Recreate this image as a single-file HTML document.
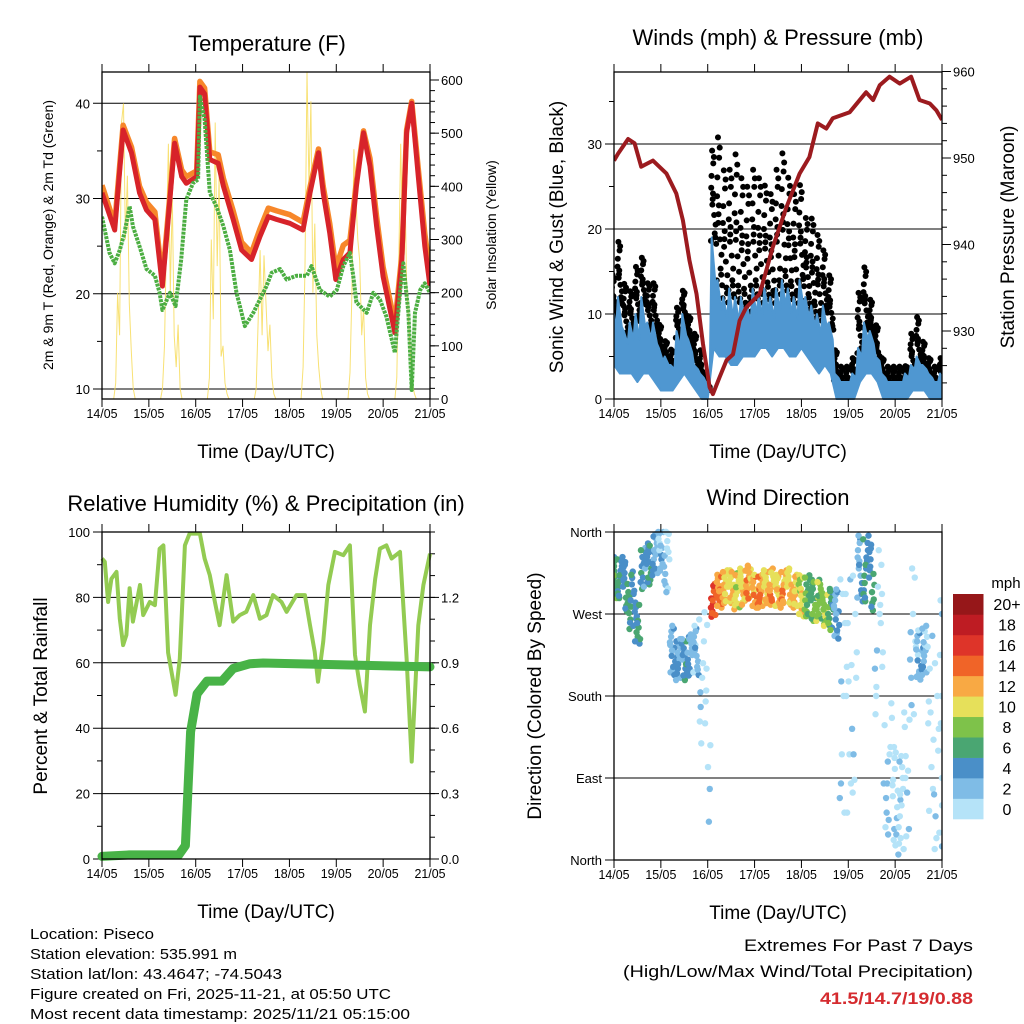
<!DOCTYPE html>
<html><head><meta charset="utf-8"><style>
html,body{margin:0;padding:0;background:#fff;}
svg{display:block;font-family:"Liberation Sans",sans-serif;}
</style></head><body>
<svg id="svg" width="1024" height="1024" viewBox="0 0 1024 1024"></svg>
<script>
// ===== DATA =====
const dayLabels=["14/05","15/05","16/05","17/05","18/05","19/05","20/05","21/05"];
// Temperature (days, F)
const tT=[0,0.27,0.45,0.63,0.80,0.95,1.13,1.29,1.45,1.55,1.70,1.80,2.02,2.09,2.19,2.30,2.48,2.59,2.80,2.98,3.19,3.37,3.55,3.73,4.01,4.29,4.44,4.62,4.72,4.86,4.99,5.15,5.29,5.43,5.58,5.72,5.86,6.00,6.25,6.40,6.50,6.61,6.75,6.89,7.0];
const temp2m=[30.6,26.7,37.2,34.8,30.6,28.8,27.8,20.8,29.9,35.8,32.3,31.6,32.3,41.7,41.0,34.1,33.7,31.3,27.8,24.6,23.6,26.0,28.1,27.8,27.4,26.7,30.6,34.8,30.6,26.4,21.5,23.6,24.3,31.3,36.9,33.4,27.1,21.8,15.9,23.6,36.9,40.0,32.3,25.0,20.8];
const temp9mOffset=[0.8,0.6,0.5,0.6,0.7,0.8,0.8,0.6,0.5,0.5,0.7,0.7,0.6,0.6,0.6,0.8,0.9,0.8,0.9,0.8,0.7,0.8,0.9,0.9,0.9,0.8,0.6,0.4,0.7,1.0,1.2,1.5,1.3,0.5,0.2,0.8,1.0,1.0,0.9,0.6,0.3,0.2,0.8,1.3,1.5];
const tTd=[0,0.16,0.27,0.38,0.48,0.59,0.66,0.80,0.95,1.13,1.23,1.29,1.45,1.57,1.69,1.80,1.94,2.05,2.09,2.19,2.30,2.44,2.59,2.73,2.87,3.05,3.23,3.37,3.51,3.62,3.80,3.94,4.15,4.37,4.47,4.65,4.86,5.01,5.15,5.29,5.36,5.43,5.65,5.79,5.93,6.07,6.25,6.36,6.43,6.54,6.61,6.68,6.79,6.89,7.0];
const dewpt=[28.1,24.3,23.2,24.6,26.4,29.2,27.1,25.0,22.6,21.9,20.1,18.3,20.1,18.7,23.6,29.9,31.6,32.0,40.7,38.3,30.6,29.2,27.1,24.6,20.1,16.6,18.0,19.4,20.8,22.2,22.6,21.5,21.9,21.9,22.9,20.4,19.7,20.4,22.9,24.3,21.9,19.1,18.0,20.1,19.4,17.6,13.8,20.1,23.2,18.0,9.9,18.0,20.4,21.1,20.1];
// Solar insolation, hourly 06..17 UTC for each day
const solarHours=[6,7,8,9,10,11,12,13,14,15,16,17];
const solar=[[0,30,200,120,520,556,300,420,180,90,20,0],[0,20,100,300,480,200,380,120,60,140,20,0],[0,40,300,150,520,250,420,80,100,30,10,0],[0,20,150,280,120,270,180,90,140,40,10,0],[0,60,250,615,400,560,200,330,120,60,20,0],[0,50,200,470,380,300,260,120,170,40,10,0],[0,40,260,480,300,440,220,150,80,30,10,0]];
// Winds, 3-hourly (mph)
const windLo=[4,3,3,3,2,3,3,2, 1,1,1, 2,3,2, 1,0,0, 6,5,5,4,4,5,5,5,6,6,5,6,6,5,5,6, 5,4,3,4,3, 0,0,0,0, 2,3,3,2, 0,0,0,0,0, 1,1,1, 0,0,0];
const windHi=[10,12,8,9,10,12,9,9, 6,5,4, 8,10,7, 4,3,2, 19,14,12,13,12,12,11,13,12,13,12,13,14,13,12,14, 12,11,10,11,9, 3,2,2,3, 6,9,8,5, 3,2,2,2,3, 4,5,4, 3,2,3];
const gustHi=[15,19,14,13,16,17,14,14, 9,7,6, 11,13,10, 8,6,3, 30,32,28,28,30,27,26,28,27,26,25,28,30,27,25,26, 22,22,20,18,15, 6,4,4,5, 13,16,12,9, 5,4,4,4,4, 8,10,7, 5,4,5];
// Pressure (mb)
const tP=[0,0.085,0.30,0.44,0.58,0.83,1.12,1.33,1.47,1.61,1.76,1.90,2.04,2.11,2.25,2.40,2.54,2.68,2.82,3.11,3.39,3.68,3.96,4.17,4.35,4.53,4.67,5.03,5.38,5.53,5.67,5.88,6.10,6.34,6.52,6.74,6.88,7.0];
const pres=[949.7,950.5,952.2,951.7,949.0,949.7,948.2,945.9,942.8,938.2,934.3,928.5,923.5,922.7,924.6,926.6,927.3,931.2,932.7,934.3,939.7,944.3,948.2,950.1,954.0,953.4,954.6,955.3,957.6,956.7,958.4,959.4,958.6,959.4,956.7,956.3,955.5,954.4];
// RH (%)
const tRH=[0,0.06,0.13,0.20,0.31,0.38,0.45,0.52,0.59,0.66,0.81,0.88,1.02,1.13,1.23,1.31,1.41,1.57,1.66,1.77,1.87,2.09,2.19,2.30,2.41,2.51,2.66,2.80,2.94,3.08,3.23,3.37,3.51,3.65,3.83,3.94,4.15,4.33,4.44,4.54,4.61,4.72,4.83,4.97,5.15,5.29,5.40,5.50,5.61,5.72,5.83,5.93,6.07,6.18,6.36,6.50,6.61,6.75,6.86,7.0];
const rh=[91.9,90.9,78.6,85.7,87.8,73.5,65.4,68.5,82.8,72.6,83.8,74.6,78.6,77.6,94.9,95.9,63.1,50.2,61.3,95.9,99.5,99.5,91.9,86.8,78.6,71.5,86.8,72.6,74.6,75.6,80.7,73.5,74.6,80.7,78.6,75.6,80.7,80.7,71.5,63.4,54.2,66.4,83.8,93.9,92.9,95.9,62.4,53.2,45.1,71.5,85.7,94.9,95.9,91.9,93.9,61.3,29.8,71.5,83.8,93.4];
const tPr=[0,0.59,1.64,1.78,1.89,2.03,2.24,2.56,2.80,3.16,3.44,7.0];
const precip=[0.012,0.019,0.019,0.062,0.584,0.758,0.816,0.816,0.874,0.896,0.899,0.881];
// Wind direction, 3-hourly: center direction (deg), spread (deg), speed (mph)
const dirCenter=[310,310,300,285,260,320,325,335,340,330,230,220,220,225,230,200,150,285,295,300,300,295,300,305,295,295,300,300,295,300,300,295,290,290,285,285,275,275,270,180,180,200,320,320,310,250,180,100,70,60,90,240,225,230,150,120,150];
const dirSpread=[25,25,30,35,25,25,25,25,25,40,30,25,25,25,30,80,120,20,20,20,20,22,22,20,20,20,20,22,20,20,22,20,25,25,25,25,20,25,30,160,160,140,40,40,40,100,160,80,60,60,80,100,30,30,120,120,150];
const dirSpeed=[7,6,6,6,6,5,6,4,3,2,4,4,5,4,3,1,1,16,14,12,12,11,12,13,13,14,12,13,12,13,12,12,11,8,8,9,10,7,4,1,1,1,4,6,6,1,1,2,1,1,1,2,3,3,1,1,1];
const speedColors=["#b5e3f8","#7fbce6","#4a8fc8","#4aa672","#7ec24a","#e6e05a","#f8a944","#f06428","#de3429","#be1c23","#961719"];
const speedLabels=["0","2","4","6","8","10","12","14","16","18","20+"];

// ===== HELPERS =====
const NS="http://www.w3.org/2000/svg";
const svg=document.getElementById('svg');
function el(tag,attrs,parent){const e=document.createElementNS(NS,tag);for(const k in attrs)e.setAttribute(k,attrs[k]);(parent||svg).appendChild(e);return e;}
function txt(s,x,y,size,anchor,extra,parent){const t=el('text',Object.assign({x:x,y:y,'font-size':size,'text-anchor':anchor||'middle',fill:'#000'},extra||{}),parent);t.textContent=s;return t;}
function lin(d0,d1,r0,r1){return v=>r0+(v-d0)*(r1-r0)/(d1-d0);}

function frame(name,X0,X1,Y0,Y1,g){
  const r=el('rect',{x:X0,y:Y0,width:X1-X0,height:Y1-Y0,fill:'none',stroke:'#000','stroke-width':1.3},g);
  
  
  const xs=lin(0,7,X0,X1);
  for(let d=0;d<=7;d++){
    const x=xs(d);
    el('line',{x1:x,x2:x,y1:Y0-8,y2:Y0,stroke:'#000','stroke-width':1},g);
    el('line',{x1:x,x2:x,y1:Y1,y2:Y1+8,stroke:'#000','stroke-width':1},g);
    const t=txt(dayLabels[d],x,Y1+19,13,'middle',{textLength:31,lengthAdjust:'spacingAndGlyphs'},g);
    
    
  }
  const xt=txt('Time (Day/UTC)',(X0+X1)/2,Y1+59,19,'middle',{},g);
  
  
  return xs;
}
function leftAxis(g,X0,X1,ys,ticks,labels,minor){
  for(const m of minor){el('line',{x1:X0-5,x2:X0,y1:ys(m),y2:ys(m),stroke:'#000','stroke-width':1},g);}
  ticks.forEach((v,i)=>{const y=ys(v);
    el('line',{x1:X0-9,x2:X1,y1:y,y2:y,stroke:'#000','stroke-width':1},g);
    const t=txt(labels[i],X0-12,y+5,13,'end',{},g);
    
    });
}
function rightAxis(g,X1,ys,ticks,labels,minor){
  for(const m of minor){el('line',{x1:X1,x2:X1+5,y1:ys(m),y2:ys(m),stroke:'#000','stroke-width':1},g);}
  ticks.forEach((v,i)=>{const y=ys(v);
    el('line',{x1:X1,x2:X1+9,y1:y,y2:y,stroke:'#000','stroke-width':1},g);
    const t=txt(labels[i],X1+11,y+5,13,'start',{},g);
    
    });
}
function path(pts){return pts.map((p,i)=>(i?'L':'M')+p[0].toFixed(1)+','+p[1].toFixed(1)).join('');}
function rng(a,b,s){const r=[];for(let v=a;v<=b+1e-9;v+=s)r.push(+v.toFixed(3));return r;}
// deterministic jitter pattern (rendering only)
const jx=[0.05,0.55,0.3,0.85,0.15,0.7,0.4,0.95,0.25,0.6,0.1,0.8,0.45,0.35];
const jy=[0.1,0.9,0.5,0.3,0.75,0.2,0.6,0.05,0.95,0.4,0.65,0.15,0.85,0.55];

// ===== PANEL 1: TEMPERATURE =====
(function(){
  const g=el('g',{});
  
  
  const X0=102,X1=430,Y0=72,Y1=399;
  const xs=lin(0,7,X0,X1), ys=lin(10,40,389,103.3), ys2=lin(0,600,399,80);
  const clip=el('clipPath',{id:'c1'},g);el('rect',{x:X0,y:Y0,width:X1-X0,height:Y1-Y0},clip);
  const title=txt('Temperature (F)',267,51,22,'middle',{},g);
  
  
  leftAxis(g,X0,X1,ys,[10,20,30,40],['10','20','30','40'],[15,25,35]);
  rightAxis(g,X1,ys2,[0,100,200,300,400,500,600],['0','100','200','300','400','500','600'],rng(20,600,20));
  const dg=el('g',{'clip-path':'url(#c1)'},g);
  const sp=[];
  for(let d=0;d<7;d++){solar[d].forEach((v,i)=>sp.push([xs(d+solarHours[i]/24),ys2(v)]));}
  const s=el('path',{d:path(sp),fill:'none',stroke:'#f7dc5c','stroke-width':1,'stroke-opacity':0.85},dg);
  
  
  const o=el('path',{d:path(tT.map((t,i)=>[xs(t),ys(temp2m[i]+temp9mOffset[i])])),fill:'none',stroke:'#f7872a','stroke-width':5.5,'stroke-linejoin':'round'},dg);
  
  
  const r=el('path',{d:path(tT.map((t,i)=>[xs(t),ys(temp2m[i])])),fill:'none',stroke:'#d7232a','stroke-width':5,'stroke-linejoin':'round'},dg);
  
  
  const gr=el('path',{d:path(tTd.map((t,i)=>[xs(t),ys(dewpt[i])])),fill:'none',stroke:'#4cae42','stroke-width':4,'stroke-dasharray':'3 1','stroke-linejoin':'round'},dg);
  
  
  frame('temperature',X0,X1,Y0,Y1,g);
  const yl=txt('2m & 9m T (Red, Orange) & 2m Td (Green)',0,0,14,'middle',{transform:'translate(53,235) rotate(-90)'},g);
  
  
  const yr=txt('Solar Insolation (Yellow)',0,0,14,'middle',{transform:'translate(496,235) rotate(-90)'},g);
  
  
})();

// ===== PANEL 2: WINDS & PRESSURE =====
(function(){
  const g=el('g',{});
  
  
  const X0=614,X1=942,Y0=72,Y1=399;
  const xs=lin(0,7,X0,X1), ys=lin(0,30,399,144), ys2=lin(930,960,331,71.5);
  const clip=el('clipPath',{id:'c2'},g);el('rect',{x:X0,y:Y0-4,width:X1-X0,height:Y1-Y0+8},clip);
  const title=txt('Winds (mph) & Pressure (mb)',778,45,22,'middle',{},g);
  
  
  leftAxis(g,X0,X1,ys,[0,10,20,30],['0','10','20','30'],[5,15,25,35]);
  rightAxis(g,X1,ys2,[930,940,950,960],['930','940','950','960'],rng(924,960,2));
  const dg=el('g',{'clip-path':'url(#c2)'},g);
  const step=1/8;
  windHi.forEach((hi,i)=>{
    const gmax=gustHi[i];
    for(let k=0;k<14;k++){
      const v=hi-1+(gmax-hi+1)*Math.pow(jy[k],1.3);
      const c=el('circle',{cx:xs(Math.min(7,i*step+step*(jx[k]-0.5))),cy:ys(v),r:3,fill:'#000'},dg);
      
      
    }
  });
  const pts=[];
  windHi.forEach((v,i)=>{const t=Math.min(7,i*step);pts.push([xs(Math.max(0,t-step/3)),ys(v)]);pts.push([xs(Math.min(7,t+step/3)),ys((v+windLo[i])/2+1)]);});
  for(let i=windLo.length-1;i>=0;i--){pts.push([xs(Math.min(7,i*step)),ys(windLo[i])]);}
  const b=el('path',{d:path(pts)+'Z',fill:'#4f97d1',stroke:'#4f97d1','stroke-width':2,'stroke-linejoin':'round'},dg);
  
  
  const p=el('path',{d:path(tP.map((t,i)=>[xs(t),ys2(pres[i])])),fill:'none',stroke:'#9c1b1f','stroke-width':4,'stroke-linejoin':'round'},dg);
  
  
  frame('winds',X0,X1,Y0,Y1,g);
  const yl=txt('Sonic Wind & Gust (Blue, Black)',0,0,19,'middle',{transform:'translate(563,237) rotate(-90)'},g);
  
  
  const yr=txt('Station Pressure (Maroon)',0,0,19,'middle',{transform:'translate(1014,237) rotate(-90)'},g);
  
  
})();

// ===== PANEL 3: RH & PRECIP =====
(function(){
  const g=el('g',{});
  
  
  const X0=102,X1=430,Y0=532,Y1=859;
  const xs=lin(0,7,X0,X1), ys=lin(0,100,859,532), ys2=lin(0,1.5,859,532);
  const clip=el('clipPath',{id:'c3'},g);el('rect',{x:X0-6,y:Y0,width:X1-X0+12,height:Y1-Y0+6},clip);
  const title=txt('Relative Humidity (%) & Precipitation (in)',266,511,22,'middle',{},g);
  
  
  leftAxis(g,X0,X1,ys,[0,20,40,60,80,100],['0','20','40','60','80','100'],[10,30,50,70,90]);
  rightAxis(g,X1,ys2,[0,0.3,0.6,0.9,1.2],['0.0','0.3','0.6','0.9','1.2'],rng(0,1.5,0.1));
  const dg=el('g',{'clip-path':'url(#c3)'},g);
  const r=el('path',{d:path(tRH.map((t,i)=>[xs(t),ys(rh[i])])),fill:'none',stroke:'#93cb52','stroke-width':4,'stroke-linejoin':'round'},dg);
  
  
  const p=el('path',{d:path(tPr.map((t,i)=>[xs(t),ys2(precip[i])])),fill:'none',stroke:'#48b347','stroke-width':9,'stroke-linejoin':'round','stroke-linecap':'round'},dg);
  
  
  frame('humidity',X0,X1,Y0,Y1,g);
  const yl=txt('Percent & Total Rainfall',0,0,19,'middle',{transform:'translate(47,696) rotate(-90)'},g);
  
  
})();

// ===== PANEL 4: WIND DIRECTION =====
(function(){
  const g=el('g',{});
  
  
  const X0=614,X1=942,Y0=532,Y1=860;
  const xs=lin(0,7,X0,X1), ys=lin(0,360,860,532);
  const clip=el('clipPath',{id:'c4'},g);el('rect',{x:X0,y:Y0-4,width:X1-X0,height:Y1-Y0+8},clip);
  const title=txt('Wind Direction',778,505,22,'middle',{},g);
  
  
  leftAxis(g,X0,X1,ys,[0,90,180,270,360],['North','East','South','West','North'],[]);
  const dg=el('g',{'clip-path':'url(#c4)'},g);
  const step=1/8;
  dirCenter.forEach((c,i)=>{
    const n=dirSpread[i]>60?9:14;
    for(let k=0;k<n;k++){
      let d=c+dirSpread[i]*(jy[(k+i)%14]-0.5)*2;
      d=Math.max(0,Math.min(360,d));
      let s=dirSpeed[i]+(jx[(k*3+i)%14]-0.5)*4;
      const bin=Math.max(0,Math.min(10,Math.floor(s/2)));
      const dot=el('circle',{cx:xs(Math.min(7,Math.max(0,i*step+step*(jx[k]-0.5)))),cy:ys(d),r:3.2,fill:speedColors[bin]},dg);
      
      
    }
  });
  frame('wind-direction',X0,X1,Y0,Y1,g);
  const yl=txt('Direction (Colored By Speed)',0,0,19,'middle',{transform:'translate(541,696) rotate(-90)'},g);
  
  
  const cb=el('g',{},g);
  
  
  const h=(819-594)/11;
  for(let j=0;j<11;j++){
    const bx=el('rect',{x:953,y:594+(10-j)*h,width:30.5,height:h+0.3,fill:speedColors[j]},cb);
    
    
    const t=txt(speedLabels[j],1007,594+(10-j)*h+h/2+6,16,'middle',{},cb);
    
    
  }
  const u=txt('mph',1006,588,15,'middle',{},cb);
  
  
})();

// ===== FOOTER TEXT =====
(function(){
  const lines=['Location: Piseco','Station elevation: 535.991 m','Station lat/lon: 43.4647; -74.5043','Figure created on Fri, 2025-11-21, at 05:50 UTC','Most recent data timestamp: 2025/11/21 05:15:00'];
  const lens=[124,207,252,361,380];
  lines.forEach((s,i)=>{const t=txt(s,30,939+i*20,15,'start',{textLength:lens[i],lengthAdjust:'spacingAndGlyphs'});
    
    });
  const a=txt('Extremes For Past 7 Days',973,951,17,'end',{textLength:229,lengthAdjust:'spacingAndGlyphs'});
  
  
  const b=txt('(High/Low/Max Wind/Total Precipitation)',973,977,17,'end',{textLength:350,lengthAdjust:'spacingAndGlyphs'});
  
  
  const c=txt('41.5/14.7/19/0.88',973,1004,17,'end',{fill:'#d52b2f','font-weight':'bold',textLength:153,lengthAdjust:'spacingAndGlyphs'});
  
  
})();
</script>
</body></html>
